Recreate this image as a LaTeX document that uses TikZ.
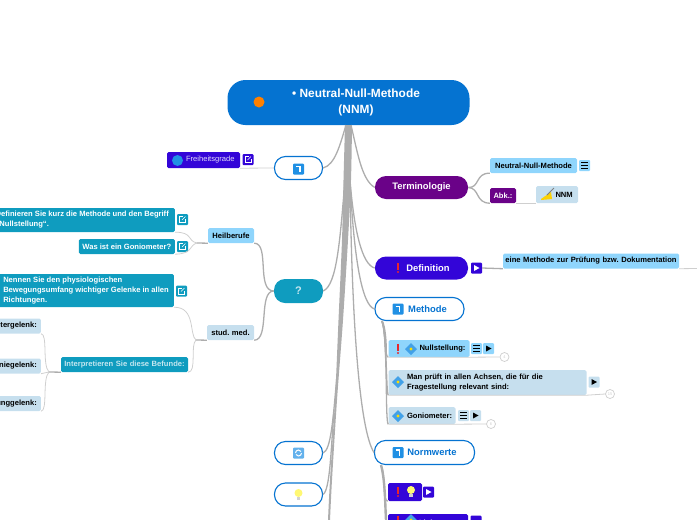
\documentclass[tikz,border=0pt]{standalone}
\usepackage{fontspec}
\setmainfont{Liberation Sans}
\usetikzlibrary{calc,positioning,shapes.geometric}
\definecolor{royal}{HTML}{0573D1}
\definecolor{lilac}{HTML}{6A0288}
\definecolor{indig}{HTML}{3305D8}
\definecolor{teal}{HTML}{0F9CBF}
\definecolor{skyb}{HTML}{8FD5FC}
\definecolor{pale}{HTML}{C6DFEE}
\definecolor{wire}{HTML}{ADADAD}
\definecolor{thin}{HTML}{CFCFCF}
\definecolor{bang}{HTML}{E8262C}
\definecolor{tile}{HTML}{2090E4}
\tikzset{
	box/.style={rounded corners=1.5pt, inner sep=0pt, align=left, font=\bfseries\frenchspacing\fontsize{7.6}{10}\selectfont},
	hug/.style={box, inner xsep=5pt},
	topic/.style={rounded corners=11pt, inner sep=0pt, font=\bfseries\fontsize{9.4}{11}\selectfont},
	outl/.style={topic, draw=royal, line width=1.1pt, fill=white, text=royal},
	btn/.style={rounded corners=1pt, minimum width=11pt, minimum height=11pt, inner sep=0pt},
	trunk/.style={draw=wire, line width=1.3pt},
	twig/.style={draw=thin, line width=.8pt},
	cnt/.style={circle, draw=thin, fill=white, line width=.7pt, minimum size=9pt, inner sep=0pt, text=thin, font=\fontsize{4}{4}\selectfont},
}
% small icons
\newcommand{\icoturn}[1]{\fill[tile, rounded corners=1pt] ($(#1)+(-5.5,-5.5)$) rectangle ($(#1)+(5.5,5.5)$);
	\draw[white, line width=1.3pt] ($(#1)+(-2.5,-2.5)$) -- ($(#1)+(1.5,-2.5)$) -- ($(#1)+(1.5,3)$);}
\newcommand{\icocycle}[1]{\fill[tile!70, rounded corners=1pt] ($(#1)+(-5.5,-5.5)$) rectangle ($(#1)+(5.5,5.5)$);
	\draw[white, line width=1pt] ($(#1)+(3,0)$) arc (0:150:3);
	\draw[white, line width=1pt] ($(#1)+(-3,0)$) arc (180:330:3);}
\newcommand{\icobang}[1]{\fill[bang] ($(#1)+(-1.2,-5)$) rectangle ($(#1)+(1.2,2)$);
	\fill[bang] ($(#1)+(0,4)$) circle (1.2);}
\newcommand{\icogem}[1]{\fill[tile!85] ($(#1)+(-6,0)$) -- ($(#1)+(0,-6)$) -- ($(#1)+(6,0)$) -- ($(#1)+(0,6)$) -- cycle;
	\fill[yellow!80!orange] (#1) circle (1.6);}
\newcommand{\icobulb}[1]{\fill[yellow!55] ($(#1)+(0,-1)$) circle (4);
	\fill[gray!35] ($(#1)+(-1.8,3)$) rectangle ($(#1)+(1.8,6)$);}
\newcommand{\icoplay}[2]{\fill[#2] ($(#1)+(-2.5,-3)$) -- ($(#1)+(3,0)$) -- ($(#1)+(-2.5,3)$) -- cycle;}
\newcommand{\icolist}[2]{\foreach \yy in {-3,0,3} \draw[#2, line width=.6pt] ($(#1)+(-3.2,\yy)$) -- ($(#1)+(3.2,\yy)$);}
\newcommand{\icolink}[2]{\draw[#2, line width=.6pt] ($(#1)+(.5,-3)$) -- ($(#1)+(-3,-3)$) -- ($(#1)+(-3,3)$) -- ($(#1)+(3,3)$) -- ($(#1)+(3,-.5)$);
	\draw[#2, line width=.6pt] ($(#1)+(-.5,.5)$) -- ($(#1)+(3,-3)$);}

\begin{document}
\begin{tikzpicture}[x=1pt, y=-1pt]
	\useasboundingbox (0, 0) rectangle (697, 520);
	\clip (0, 0) rectangle (697, 520);
	%%%%% NODES %%%%%
	\node[topic, fill=royal, minimum width=242pt, minimum height=45pt, rounded corners=18pt] (root) at (348.5, 102.5) {};
	\node[text=white, align=center, font=\bfseries\fontsize{11.9}{15.5}\selectfont] (roottext) at (356, 102.5) {• Neutral-Null-Methode\\(NNM)};
	\fill[orange] (259, 102) circle (5.5);

	\node[outl, minimum width=48pt, minimum height=23pt] (turn) at (298.5, 168) {};
	\node[topic, fill=teal, text=white!75!teal, minimum width=49pt, minimum height=24pt] (quest) at (298.5, 291) {\fontsize{11}{11}\selectfont ?};
	\node[outl, minimum width=48pt, minimum height=23pt] (cycle) at (298.5, 453) {};
	\node[outl, minimum width=48pt, minimum height=23pt] (bulb) at (298.5, 494.5) {};
	\node[topic, fill=lilac, text=white, minimum width=93pt, minimum height=23pt] (term) at (421.5, 187.5) {Terminologie};
	\node[topic, fill=indig, text=white, minimum width=93pt, minimum height=23pt] (defi) at (421.5, 268) {\hspace{13pt}Definition};
	\node[outl, minimum width=89pt, minimum height=23pt] (meth) at (419.5, 309) {\hspace{16pt}Methode};
	\node[outl, minimum width=100pt, minimum height=24pt] (norm) at (424.5, 452.5) {\hspace{15pt}Normwerte};

	\node[box, fill=indig, text=white!85!indig, text width=73pt, minimum height=16pt] (frei) at (203.5, 160) {\hspace*{19pt}\mdseries Freiheitsgrade};
	\node[btn, fill=indig] (freib) at (248, 159.5) {};

	\node[box, fill=skyb, text width=46pt, minimum height=15pt, align=center] (heil) at (231, 235.5) {Heilberufe};
	\node[box, fill=pale, text width=47pt, minimum height=15pt, align=center] (stud) at (230.5, 332.5) {stud. med.};
	\node[hug, fill=teal, text=white, minimum height=24pt, anchor=east, inner xsep=6pt] (defk) at (175, 220) {Definieren Sie kurz die Methode und den Begriff\\„Nullstellung“.};
	\node[btn, fill=teal] (defkb) at (182.5, 219.5) {};
	\node[hug, fill=teal, text=white, minimum width=96pt, minimum height=15pt, anchor=east, inner xsep=0pt, align=center] (gonq) at (175, 246.5) {Was ist ein Goniometer?};
	\node[btn, fill=teal] (gonqb) at (182.5, 246.5) {};
	\node[hug, fill=teal, text=white, minimum height=33pt, anchor=east] (nenn) at (174, 290.5) {Nennen Sie den physiologischen\\Bewegungsumfang wichtiger Gelenke in allen\\Richtungen.};
	\node[btn, fill=teal] (nennb) at (181.5, 291) {};
	\node[box, fill=teal, text=white!75!teal, text width=127pt, minimum height=15pt, align=center] (inte) at (124.5, 364.5) {Interpretieren Sie diese Befunde:};
	\node[hug, fill=pale, minimum height=15pt, anchor=east, inner xsep=4pt] (schu) at (41, 326) {Schultergelenk:};
	\node[hug, fill=pale, minimum height=15pt, anchor=east, inner xsep=4pt] (knie) at (41, 366) {Kniegelenk:};
	\node[hug, fill=pale, minimum height=15pt, anchor=east, inner xsep=4pt] (spru) at (41, 403.5) {Sprunggelenk:};

	\node[box, fill=skyb, text width=87pt, minimum height=15pt, align=center] (neut) at (533.5, 165.5) {Neutral-Null-Methode};
	\node[btn, fill=skyb] (neutb) at (584.5, 165.5) {};
	\node[box, fill=lilac, text=white, text width=26pt, minimum height=15pt, align=center] (abk) at (503, 195.5) {Abk.:};
	\node[box, fill=pale, text width=42pt, minimum height=17pt] (nnm) at (557, 194.5) {\hspace*{19.5pt}NNM};
	\node[box, fill=skyb, text width=176pt, minimum height=15pt, align=center] (eine) at (591, 261) {eine Methode zur Prüfung bzw. Dokumentation};
	\node[btn, fill=indig] (defib) at (476.5, 268) {};

	\node[box, fill=skyb, text width=81pt, minimum height=17pt] (null) at (429, 348.5) {\hspace*{31pt}Nullstellung:};
	\node[btn, fill=skyb] (nullb) at (476.5, 348.5) {};
	\node[btn, fill=skyb] (nullc) at (488.5, 348.5) {};
	\node[cnt] (nullz) at (504.5, 357) {4};
	\node[box, fill=pale, text width=198pt, minimum height=25pt] (pruef) at (487.5, 382.5) {\hspace*{18.5pt}\begin{tabular}{@{}l@{}}Man prüft in allen Achsen, die für die\\Fragestellung relevant sind:\end{tabular}};
	\node[btn, fill=pale] (pruefb) at (594, 382) {};
	\node[cnt] (pruefz) at (610, 394) {15};
	\node[box, fill=pale, text width=67pt, minimum height=17pt] (goni) at (422, 415.5) {\hspace*{18.5pt}Goniometer:};
	\node[btn, fill=pale] (gonib) at (463.5, 415.5) {};
	\node[btn, fill=pale] (gonic) at (475.5, 415.5) {};
	\node[cnt] (goniz) at (491, 424) {6};

	\node[box, fill=indig, text width=34pt, minimum height=18pt] (warn) at (405, 492) {};
	\node[btn, fill=indig] (warnb) at (428.5, 492) {};
	\node[box, fill=indig, text=white, text width=80pt, minimum height=18pt] (rows) at (428, 523) {\hspace*{31pt}Links};
	\node[btn, fill=indig] (rowsb) at (476, 521) {};

	%%%%% CONNECTORS %%%%%
	\coordinate (hub) at (349, 125);
	\coordinate (down) at (329, 520);
	\coordinate (mhub) at (382, 321);
	\coordinate (nhub) at (381, 465);
	\coordinate (hhub) at (197, 243);
	\coordinate (shub) at (196, 340);
	\coordinate (ihub) at (49, 372);
	\coordinate (thub) at (475, 188);
	\fill[wire] plot[smooth] coordinates {(345,125) (343.5,180) (342,240) (338.5,320) (335,400) (330,480) (328,520)}
		-- plot[smooth] coordinates {(330,520) (332,480) (337,400) (343,320) (348,240) (351,180) (352,125)} -- cycle;
	\draw[trunk] (346, 125) .. controls (340, 145) and (335, 165) .. (turn.east);
	\draw[trunk] (345, 180) .. controls (340, 240) and (337, 285) .. (quest.east);
	\draw[trunk] (337, 375) .. controls (333, 420) and (331, 450) .. (cycle.east);
	\draw[trunk] (334, 410) .. controls (331, 450) and (330, 490) .. (bulb.east);
	\draw[trunk] (351, 125) .. controls (358, 155) and (362, 180) .. (term.west);
	\draw[trunk] (350, 180) .. controls (354, 230) and (362, 265) .. (defi.west);
	\draw[trunk] (350, 180) .. controls (354, 260) and (362, 305) .. (meth.west);
	\draw[trunk] (350, 180) .. controls (352, 330) and (360, 430) .. (norm.west);
	\draw[trunk] (mhub) .. controls (386, 330) and (384, 357) .. (null.south west);
	\draw[trunk] (mhub) .. controls (387, 335) and (386, 394) .. (pruef.south west);
	\draw[trunk] (mhub) .. controls (388, 340) and (385, 424) .. (goni.south west);
	\draw[trunk, line width=2pt] (mhub) .. controls (385, 328) and (386, 340) .. (386, 355);
	\draw[trunk] (nhub) .. controls (386, 475) and (382, 501) .. (warn.south west);
	\draw[trunk, line width=2.4pt] (nhub) .. controls (385, 480) and (385, 500) .. (386, 520);
	\draw[twig] (frei.south east) -- (turn.west);
	\draw[trunk] (heil.south east) .. controls (270, 243) and (256, 291) .. (quest.west);
	\draw[trunk] (stud.south east) .. controls (270, 340) and (258, 291) .. (quest.west);
	\draw[trunk] (heil.south west) -- (hhub);
	\draw[twig] (hhub) .. controls (187, 241) and (193, 232) .. (defk.south east);
	\draw[twig] (hhub) .. controls (189, 245) and (193, 254) .. (gonq.south east);
	\draw[trunk] (stud.south west) -- (shub);
	\draw[twig] (shub) .. controls (189, 335) and (196, 307) .. (nenn.south east);
	\draw[twig] (shub) .. controls (190, 345) and (197, 372) .. (inte.south east);
	\draw[trunk] (inte.south west) -- (ihub);
	\draw[twig] (ihub) .. controls (42, 365) and (48, 334) .. (schu.south east);
	\draw[twig] (ihub) -- (knie.south east);
	\draw[twig] (ihub) .. controls (42, 379) and (48, 411) .. (spru.south east);
	\draw[trunk] (term.east) .. controls (480, 188) and (475, 173) .. (neut.south west);
	\draw[trunk] (term.east) .. controls (480, 188) and (475, 203) .. (abk.south west);
	\draw[twig] (abk.south east) -- (nnm.south west);
	\draw[trunk] (defib.east) -- (eine.south west);
	\draw[twig] (eine.south east) -- (697, 268.5);
	\draw[twig] (null.south west) -- (null.south east) -- (nullz.west);
	\draw[twig] (pruef.south west) -- (pruef.south east) -- (pruefz.west);
	\draw[twig] (goni.south west) -- (goni.south east) -- (goniz.west);

	%%%%% ICONS %%%%%
	\icoturn{298.5, 169}
	\icocycle{298.5, 453}
	\icobulb{298.5, 494}
	\icobang{398, 268}
	\icoturn{398, 309}
	\icoturn{398, 452.5}
	\fill[tile] (177.5, 160.5) circle (5.5);
	\icolink{freib.center}{white}
	\icolink{defkb.center}{white}
	\icolink{gonqb.center}{white}
	\icolink{nennb.center}{white}
	\icolist{neutb.center}{black}
	\icoplay{defib.center}{white}
	\icolist{nullb.center}{black}
	\icoplay{nullc.center}{black}
	\icoplay{pruefb.center}{black}
	\icolist{gonib.center}{black}
	\icoplay{gonic.center}{black}
	\icobang{398, 349}
	\icogem{411, 349}
	\icogem{398, 382}
	\icogem{398, 416}
	\icobang{398, 492}
	\icobulb{411, 491}
	\icoplay{warnb.center}{white}
	\icobang{398, 521}
	\icogem{411, 520}
	\fill[yellow!70!orange] (541, 199) -- (551, 192) -- (552, 199) -- (541, 200) -- cycle;
	\draw[gray, line width=.8pt] (547, 195) -- (554, 188);
\end{tikzpicture}
\end{document}
